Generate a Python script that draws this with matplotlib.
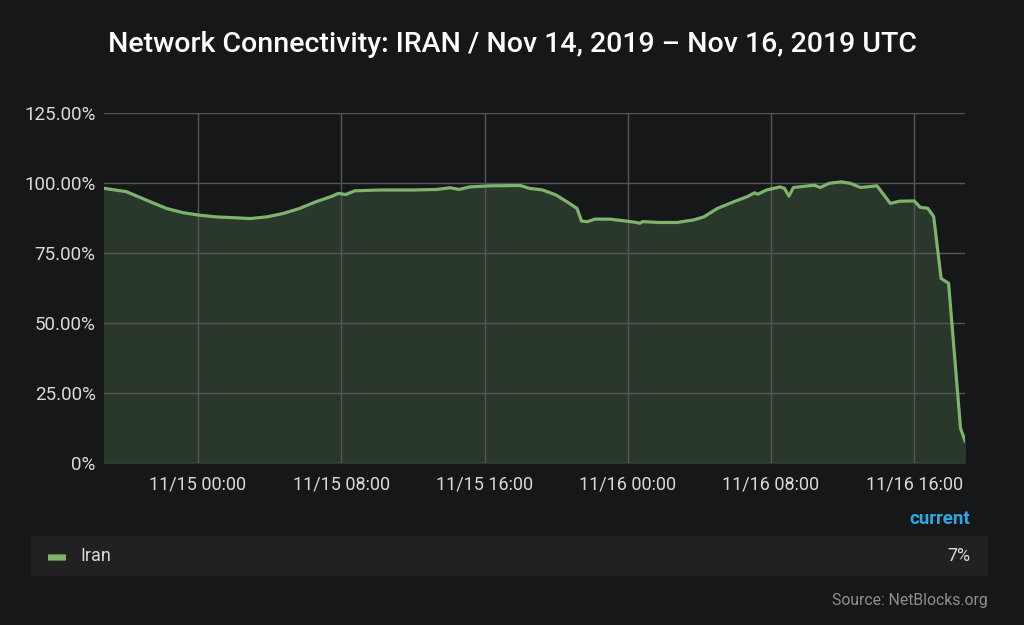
import pandas as pd
import matplotlib.pyplot as plt
import matplotlib.dates as mdates
from matplotlib.patches import FancyBboxPatch
from matplotlib.ticker import FuncFormatter

# readings taken from the chart (UTC)
times = [
    "2019-11-14 18:45", "2019-11-14 20:00", "2019-11-14 21:20", "2019-11-14 22:15",
    "2019-11-14 23:10", "2019-11-15 00:05", "2019-11-15 01:00", "2019-11-15 02:00",
    "2019-11-15 02:55", "2019-11-15 03:50", "2019-11-15 04:45", "2019-11-15 05:40",
    "2019-11-15 06:35", "2019-11-15 07:30", "2019-11-15 07:50", "2019-11-15 08:15",
    "2019-11-15 08:45", "2019-11-15 10:10", "2019-11-15 12:00", "2019-11-15 13:20",
    "2019-11-15 14:05", "2019-11-15 14:35", "2019-11-15 15:10", "2019-11-15 16:20",
    "2019-11-15 18:00", "2019-11-15 18:30", "2019-11-15 19:15", "2019-11-15 20:00",
    "2019-11-15 20:45", "2019-11-15 21:10", "2019-11-15 21:25", "2019-11-15 21:45",
    "2019-11-15 22:10", "2019-11-15 23:00", "2019-11-15 23:55", "2019-11-16 00:30",
    "2019-11-16 00:40", "2019-11-16 00:50", "2019-11-16 01:45", "2019-11-16 02:45",
    "2019-11-16 03:40", "2019-11-16 04:15", "2019-11-16 05:00", "2019-11-16 05:55",
    "2019-11-16 06:40", "2019-11-16 07:05", "2019-11-16 07:15", "2019-11-16 07:45",
    "2019-11-16 08:30", "2019-11-16 08:45", "2019-11-16 09:00", "2019-11-16 09:15",
    "2019-11-16 10:25", "2019-11-16 10:45", "2019-11-16 11:15", "2019-11-16 11:55",
    "2019-11-16 12:25", "2019-11-16 13:00", "2019-11-16 13:55", "2019-11-16 14:40",
    "2019-11-16 15:10", "2019-11-16 16:00", "2019-11-16 16:20", "2019-11-16 16:45",
    "2019-11-16 17:05", "2019-11-16 17:30", "2019-11-16 17:55", "2019-11-16 18:35",
    "2019-11-16 18:50",
]
iran = [
    98.1, 96.9, 93.3, 90.9, 89.4, 88.5, 87.9, 87.6, 87.3, 87.9, 89.1, 90.9,
    93.3, 95.3, 96.3, 95.9, 97.2, 97.5, 97.5, 97.7, 98.3, 97.7, 98.6, 99.0,
    99.1, 98.1, 97.5, 95.7, 92.7, 90.9, 86.4, 86.2, 87.1, 87.1, 86.4, 85.9,
    85.6, 86.2, 85.9, 85.9, 86.8, 87.9, 90.9, 93.3, 95.1, 96.5, 96.0, 97.5,
    98.6, 98.1, 95.3, 98.4, 99.2, 98.4, 99.9, 100.4, 99.9, 98.4, 99.0, 92.7,
    93.5, 93.6, 91.3, 91.0, 88.0, 65.9, 64.2, 12.4, 7.9,
]
y_ticks = [0, 25, 50, 75, 100, 125]

t = pd.to_datetime(times)

bg = "#161719"
green = "#7eb26d"

plt.rcParams['font.family'] = ['Roboto', 'DejaVu Sans']

fig = plt.figure(figsize=(10.24, 6.25), dpi=100, facecolor=bg)
ax = fig.add_axes([104/1024, 1 - 463/625, (965-104)/1024, (463-113)/625])
ax.set_facecolor(bg)

ax.fill_between(t, iran, 0, color="#2a372b", zorder=1)
ax.plot(t, iran, color=green, lw=2.3, zorder=3)

ax.set_xlim(t[0], t[-1])
ax.set_ylim(0, 125)
ax.set_yticks(y_ticks)
ax.yaxis.set_major_formatter(FuncFormatter(lambda v, p: "0%" if v == 0 else f"{v:.2f}%"))
ax.xaxis.set_major_locator(mdates.HourLocator(byhour=[0, 8, 16]))
ax.xaxis.set_major_formatter(mdates.DateFormatter("%m/%d %H:%M"))

ax.grid(True, color="#55565a", lw=1, zorder=2)
ax.set_axisbelow(False)
for s in ax.spines.values():
    s.set_visible(False)
ax.tick_params(length=0, colors="#d8d9da", labelsize=13.5)
ax.tick_params(axis='x', labelsize=13)
ax.tick_params(axis='y', pad=6)
ax.tick_params(axis='x', pad=9)

fig.text(0.5, 1 - 45/625, "Network Connectivity: IRAN / Nov 14, 2019 \u2013 Nov 16, 2019 UTC",
         ha="center", va="center", color="white", fontsize=20.5, fontweight="medium")

# legend table
fig.text(970/1024, 1 - 519/625, "current", ha="right", va="center",
         color="#33a5e0", fontsize=13.5, fontweight="bold")
fig.patches.append(FancyBboxPatch((31/1024, 1 - 576/625), (988-31)/1024, 40/625,
                                  boxstyle="square,pad=0", transform=fig.transFigure,
                                  facecolor="#212124", edgecolor="none"))
fig.patches.append(FancyBboxPatch((49/1024, 1 - 560/625), 16/1024, 5/625,
                                  boxstyle="round,pad=0.001", transform=fig.transFigure,
                                  facecolor=green, edgecolor="none"))
fig.text(80/1024, 1 - 556/625, "Iran", ha="left", va="center", color="#d8d9da", fontsize=13)
fig.text(970/1024, 1 - 556/625, f"{int(iran[-1])}%", ha="right", va="center",
         color="#d8d9da", fontsize=13)

fig.text(988/1024, 1 - 600/625, "Source: NetBlocks.org", ha="right", va="center",
         color="#8e8f92", fontsize=11.3)

fig.savefig("out.png", dpi=100, facecolor=bg)
